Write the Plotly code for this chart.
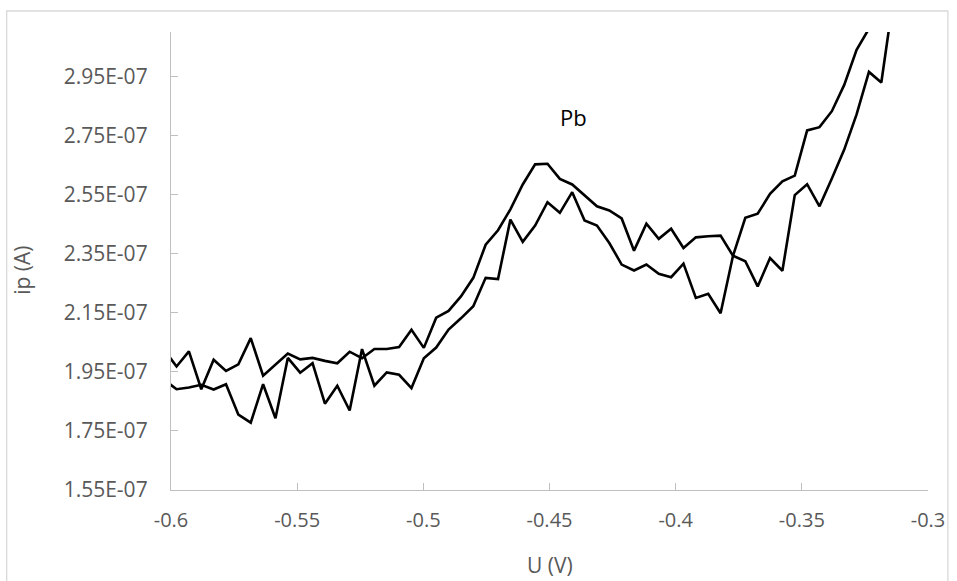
import plotly.graph_objects as go

# Potential (V) sampled by the scan
potential = [
    -0.6027, -0.5978, -0.5929, -0.5880, -0.5831, -0.5782, -0.5733, -0.5684, -0.5635, -0.5586,
    -0.5537, -0.5488, -0.5439, -0.5390, -0.5341, -0.5292, -0.5243, -0.5194, -0.5145, -0.5096,
    -0.5047, -0.4998, -0.4949, -0.4900, -0.4851, -0.4802, -0.4753, -0.4704, -0.4655, -0.4606,
    -0.4557, -0.4508, -0.4459, -0.4410, -0.4361, -0.4312, -0.4263, -0.4214, -0.4165, -0.4116,
    -0.4067, -0.4018, -0.3969, -0.3920, -0.3871, -0.3822, -0.3773, -0.3724, -0.3675, -0.3626,
    -0.3577, -0.3528, -0.3479, -0.3430, -0.3381, -0.3332, -0.3283, -0.3234, -0.3185, -0.3136,
]

# Peak current, first scan (x 1e-7 A)
scan_1 = [
    1.923, 1.891, 1.897, 1.906, 1.890, 1.908, 1.805, 1.778, 1.908, 1.793,
    1.997, 1.947, 1.979, 1.842, 1.903, 1.819, 2.027, 1.903, 1.948, 1.940,
    1.895, 1.996, 2.032, 2.093, 2.131, 2.172, 2.268, 2.264, 2.465, 2.390,
    2.445, 2.524, 2.488, 2.558, 2.462, 2.445, 2.386, 2.313, 2.293, 2.313,
    2.282, 2.270, 2.316, 2.200, 2.214, 2.148, 2.342, 2.471, 2.485, 2.552,
    2.595, 2.614, 2.767, 2.778, 2.832, 2.921, 3.040, 3.111,
]

# Peak current, second scan (x 1e-7 A)
scan_2 = [
    2.025, 1.968, 2.019, 1.891, 1.991, 1.953, 1.975, 2.064, 1.937, 1.974,
    2.012, 1.992, 1.997, 1.987, 1.979, 2.018, 1.996, 2.027, 2.027, 2.034,
    2.092, 2.031, 2.133, 2.156, 2.205, 2.268, 2.380, 2.429, 2.500, 2.584,
    2.652, 2.654, 2.603, 2.584, 2.548, 2.510, 2.496, 2.469, 2.360, 2.451,
    2.400, 2.434, 2.369, 2.405, 2.409, 2.411, 2.343, 2.324, 2.239, 2.335,
    2.292, 2.548, 2.585, 2.510, 2.604, 2.702, 2.821, 2.965, 2.929, 3.221,
]

x_ticks = [-0.6, -0.55, -0.5, -0.45, -0.4, -0.35, -0.3]
x_tick_text = ["-0.6", "-0.55", "-0.5", "-0.45", "-0.4", "-0.35", "-0.3"]
y_ticks = [1.55e-7, 1.75e-7, 1.95e-7, 2.15e-7, 2.35e-7, 2.55e-7, 2.75e-7, 2.95e-7]
y_tick_text = ["1.55E-07", "1.75E-07", "1.95E-07", "2.15E-07", "2.35E-07", "2.55E-07", "2.75E-07", "2.95E-07"]

SCALE = 1e-7
FONT = "Open Sans"
LABEL_GREY = "#595959"
AXIS_GREY = "#bfbfbf"

fig = go.Figure()
for name, series in (("scan 1", scan_1), ("scan 2", scan_2)):
    fig.add_trace(go.Scatter(
        x=potential[:len(series)],
        y=[v * SCALE for v in series],
        mode="lines",
        name=name,
        line=dict(color="black", width=2.6),
        hoverinfo="x+y",
    ))

axis_common = dict(
    showgrid=False, zeroline=False, showline=True, linecolor=AXIS_GREY, linewidth=1.3,
    ticks="inside", ticklen=7, tickwidth=1.3, tickcolor=AXIS_GREY,
)

fig.update_xaxes(range=[-0.6, -0.3], tickvals=x_ticks, ticktext=x_tick_text,
                 tickfont=dict(family=FONT, size=20, color=LABEL_GREY),
                 ticklabelstandoff=12, **axis_common)
fig.update_yaxes(range=[1.55e-7, 3.10e-7], tickvals=y_ticks, ticktext=y_tick_text,
                 tickfont=dict(family=FONT, size=21, color=LABEL_GREY),
                 ticklabelstandoff=18, **axis_common)

fig.update_layout(
    width=957, height=581,
    margin=dict(l=171, r=26, t=32, b=91),
    paper_bgcolor="white", plot_bgcolor="white",
    showlegend=False,
    annotations=[
        dict(text="Pb", x=-0.4406, y=2.814e-7, xref="x", yref="y", showarrow=False,
             xanchor="center", yanchor="middle",
             font=dict(family=FONT, size=22, color="black")),
        dict(text="ip (A)", x=-0.196, y=0.48, xref="paper", yref="paper", showarrow=False,
             xanchor="center", yanchor="middle", textangle=-90,
             font=dict(family=FONT, size=21, color=LABEL_GREY)),
        dict(text="U (V)", x=0.501, y=-0.164, xref="paper", yref="paper", showarrow=False,
             xanchor="center", yanchor="middle",
             font=dict(family=FONT, size=21, color=LABEL_GREY)),
    ],
    shapes=[
        dict(type="rect", xref="paper", yref="paper", x0=-0.2171, x1=1.0263, y0=-0.21, y1=1.0459,
             line=dict(color="#d9d9d9", width=1.3), fillcolor="rgba(0,0,0,0)", layer="below"),
    ],
)

fig.write_html("out.html")
